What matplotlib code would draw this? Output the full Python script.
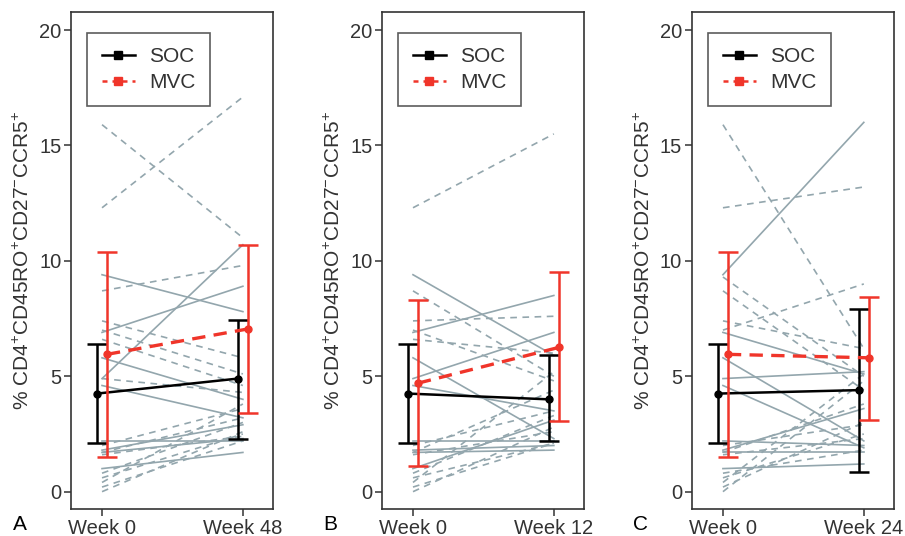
"""Per-patient CD4+CD45RO+CD27-CCR5+ trajectories, SOC vs MVC, three follow-up panels."""

import matplotlib
matplotlib.use("Agg")
import matplotlib.pyplot as plt
from matplotlib.lines import Line2D

plt.rcParams["font.family"] = ["Liberation Sans", "DejaVu Sans"]
plt.rcParams["mathtext.fontset"] = "custom"
plt.rcParams["mathtext.rm"] = "Liberation Sans"
plt.rcParams["mathtext.it"] = "Liberation Sans:italic"

GREY = "#93a6ad"
RED = "#f0352a"
INK = "#333333"

PANELS = ["A", "B", "C"]
WEEKS = ["Week 48", "Week 12", "Week 24"]

# SOC individuals (solid grey): baseline and follow-up per panel
SOC_WK0 = [9.4, 6.9, 4.9, 5.8, 4.6, 2.2, 1.8, 1.7, 1.0]
SOC_END = [
    [7.8, 8.9, 10.7, 4.0, 3.2, 2.2, 2.9, 2.3, 1.7],
    [5.9, 8.5, 6.9, 2.3, 3.5, 2.2, 2.0, 1.8, 3.1],
    [16.0, 5.1, 5.2, 2.2, 1.9, 2.0, 3.6, 1.7, 1.2],
]

# MVC individuals (dashed grey)
MVC_WK0 = [
    [12.3, 15.9, 8.7, 7.4, 7.0, 6.6, 4.9, 2.0, 1.7, 1.6, 0.8, 0.6, 0.4, 0.2, 0.0],
    [12.3, 8.7, 7.4, 7.0, 6.6, 2.0, 1.7, 1.6, 0.8, 0.6, 0.4, 0.2, 0.0],
    [15.9, 12.3, 9.3, 8.7, 7.4, 7.0, 2.0, 1.7, 1.6, 0.8, 0.6, 0.4, 0.2, 0.0],
]
MVC_END = [
    [17.1, 11.0, 9.8, 5.8, 5.1, 4.6, 4.3, 3.6, 3.2, 2.4, 3.0, 2.5, 3.8, 2.2, 2.6],
    [15.5, 5.0, 7.6, 4.8, 6.0, 3.5, 4.4, 2.6, 3.3, 2.1, 5.2, 2.1, 2.8],
    [6.2, 13.2, 5.0, 4.4, 6.2, 9.0, 2.9, 3.8, 2.3, 1.8, 2.5, 5.1, 3.0, 4.8],
]

# group summaries: [week 0, follow-up] per panel
SOC_MEAN = [[4.25, 4.9], [4.25, 4.0], [4.25, 4.4]]
SOC_LO = [[2.1, 2.3], [2.1, 2.2], [2.1, 0.85]]
SOC_HI = [[6.4, 7.45], [6.4, 5.9], [6.4, 7.9]]
MVC_MEAN = [[5.95, 7.05], [4.7, 6.25], [5.95, 5.8]]
MVC_LO = [[1.5, 3.4], [1.1, 3.05], [1.5, 3.1]]
MVC_HI = [[10.4, 10.7], [8.3, 9.5], [10.4, 8.45]]

AX_LEFT = [0.0785, 0.4221, 0.7646]
LETTER_X = [0.0147, 0.357, 0.6995]
DODGE = 0.035

fig = plt.figure(figsize=(9.05, 5.36), dpi=100)

for i in range(3):
    ax = fig.add_axes([AX_LEFT[i], 0.0504, 0.2235, 0.9267])
    x = [1, 2]

    for a, b in zip(SOC_WK0, SOC_END[i]):
        ax.plot(x, [a, b], color=GREY, lw=1.2, zorder=1)
    for a, b in zip(MVC_WK0[i], MVC_END[i]):
        ax.plot(x, [a, b], color=GREY, lw=1.2, dashes=(4, 3.3), zorder=1)

    xs = [1 - DODGE, 2 - DODGE]
    lo = [m - l for m, l in zip(SOC_MEAN[i], SOC_LO[i])]
    hi = [h - m for m, h in zip(SOC_MEAN[i], SOC_HI[i])]
    ax.errorbar(xs, SOC_MEAN[i], yerr=[lo, hi], color="black", lw=1.8,
                elinewidth=1.8, capsize=7, capthick=1.8, marker="o", ms=5, zorder=3)

    xm = [1 + DODGE, 2 + DODGE]
    lo = [m - l for m, l in zip(MVC_MEAN[i], MVC_LO[i])]
    hi = [h - m for m, h in zip(MVC_MEAN[i], MVC_HI[i])]
    eb = ax.errorbar(xm, MVC_MEAN[i], yerr=[lo, hi], color=RED, lw=2.4,
                     elinewidth=1.8, capsize=7, capthick=1.8, marker="o", ms=5, zorder=4)
    eb[0].set_dashes((4, 2.5))

    ax.set_xlim(0.78, 2.216)
    ax.set_ylim(-0.75, 20.77)
    ax.set_xticks(x, ["Week 0", WEEKS[i]])
    ax.set_yticks([0, 5, 10, 15, 20])
    ax.tick_params(colors=INK, labelcolor=INK, labelsize=14.5, length=5, width=1.1, pad=2)
    for s in ax.spines.values():
        s.set_color(INK)
        s.set_linewidth(1.2)

    ax.set_ylabel(r"% CD4$^{+}$CD45RO$^{+}$CD27$^{-}$CCR5$^{+}$", fontsize=15, color=INK)
    ax.yaxis.set_label_coords(-0.188, 0.5)

    handles = [
        Line2D([], [], color="black", lw=1.8, marker="s", ms=6),
        Line2D([], [], color=RED, lw=1.8, dashes=(2, 2), marker="s", ms=6),
    ]
    leg = ax.legend(handles, ["SOC", "MVC"], loc="upper left", bbox_to_anchor=(0.079, 0.959),
                    borderaxespad=0, fontsize=15, frameon=True, fancybox=False,
                    borderpad=0.7, labelspacing=0.32, handlelength=1.6, handletextpad=0.7)
    leg.get_frame().set_edgecolor(INK)
    leg.get_frame().set_linewidth(1.2)
    for t in leg.get_texts():
        t.set_color(INK)

    fig.text(LETTER_X[i], 0.021, PANELS[i], fontsize=15, color="black", va="center")

fig.savefig("out.png", dpi=100)
